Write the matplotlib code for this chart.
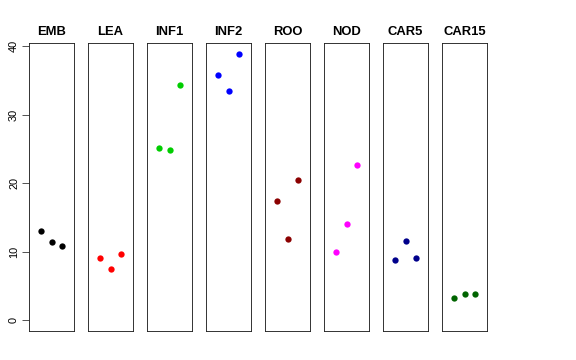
import matplotlib
matplotlib.use("Agg")
import matplotlib.pyplot as plt
import numpy as np

plt.rcParams['font.family'] = ['Liberation Sans', 'DejaVu Sans']

# values, three replicates per tissue
tissues = ['EMB', 'LEA', 'INF1', 'INF2', 'ROO', 'NOD', 'CAR5', 'CAR15']
values = [
    [13.1, 11.4, 10.8],
    [9.15, 7.5, 9.7],
    [25.2, 24.8, 34.3],
    [35.8, 33.5, 38.9],
    [17.4, 11.9, 20.5],
    [10.0, 14.0, 22.6],
    [8.75, 11.5, 9.15],
    [3.3, 3.9, 3.9],
]
colors = ['black', 'red', '#00CD00', 'blue', '#8B0000', 'magenta', '#00008B', '#006400']
yticks = [0, 10, 20, 30, 40]

W, H = 576, 360
fig = plt.figure(figsize=(W / 72, H / 72), dpi=72)

ymax = max(max(v) for v in values)
left0, step, pw = 29, 59, 45
bottom, top = 331, 43

for i, (name, vals, col) in enumerate(zip(tissues, values, colors)):
    ax = fig.add_axes([(left0 + i * step) / W, (H - bottom) / H, pw / W, (bottom - top) / H])
    x = np.arange(1, len(vals) + 1)
    ax.plot(x, vals, 'o', color=col, markersize=6.3, markeredgewidth=0)
    ax.set_xlim(-0.16, 4.16)
    ax.set_ylim(-0.04 * ymax, 1.04 * ymax)
    ax.set_xticks([])
    ax.set_title(name, fontsize=13, fontweight='bold', pad=8)
    for s in ax.spines.values():
        s.set_linewidth(0.9)
        s.set_color('#222222')
    if i == 0:
        ax.set_yticks(yticks)
        ax.set_yticklabels([str(t) for t in yticks], rotation=90, va='center', fontsize=11)
        ax.tick_params(axis='y', length=7, pad=3, width=0.9, color='#444444')
    else:
        ax.set_yticks([])

fig.savefig('out.png', dpi=72)
